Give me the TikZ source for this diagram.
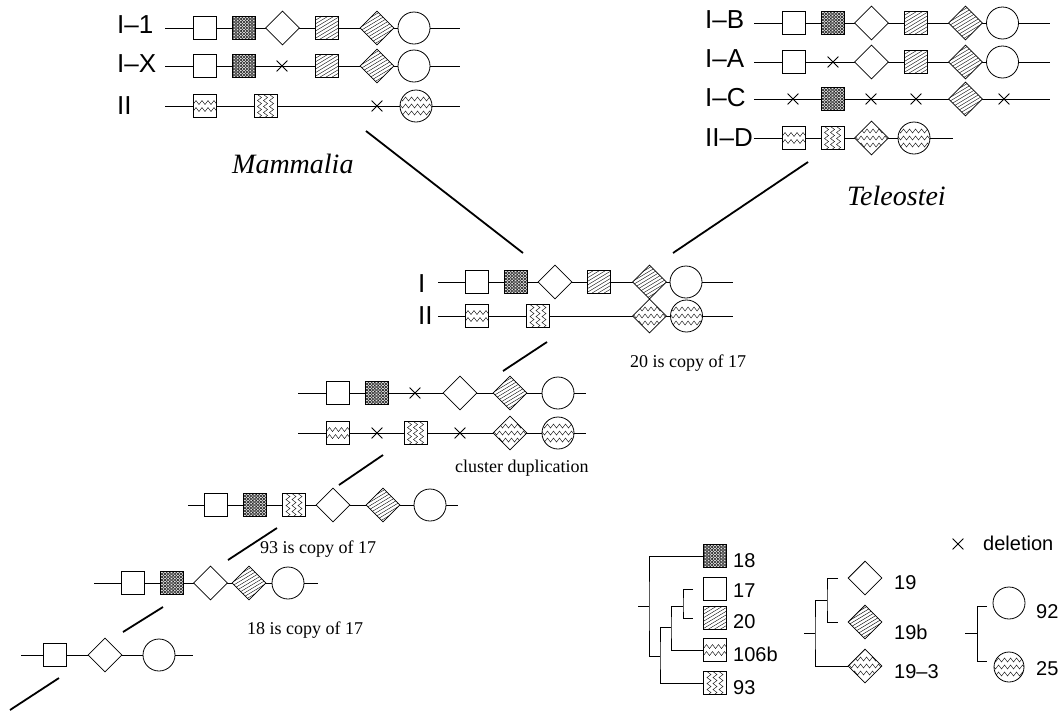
\documentclass[tikz,border=0pt]{standalone}
\usepackage{fontspec}
\setmainfont{Liberation Serif}
\setsansfont{Liberation Sans}
\usepackage{tikz}
\usetikzlibrary{positioning,shapes.geometric,shapes.misc,decorations.pathmorphing}

\begin{document}
\begin{tikzpicture}[x=1pt,y=-1pt,
    gene/.style={draw,line width=0.8pt,fill=white,inner sep=0pt},
    meshing/.style={path picture={\begin{scope}[shift={(path picture bounding box.center)}]
        \fill[gray!25] (-17,-17) rectangle (17,17);
        \foreach \j in {-5,...,5}{
          \draw[line width=0.4pt] plot[variable=\t,domain=-14:14,samples=40] ({\j*3.2+1.4*sin(60*\t)},\t);
          \draw[line width=0.4pt] plot[variable=\t,domain=-14:14,samples=40] ({\j*3.2-1.4*sin(60*\t)},\t);}
        \end{scope}}},
    hatching/.style={path picture={\begin{scope}[shift={(path picture bounding box.center)}]
        \foreach \k in {-48,-42,...,48} \draw[line width=0.4pt] (\k-30,18) -- (\k+30,-18);
        \end{scope}}},
    waveto/.style={line width=0.4pt,decorate,decoration={zigzag,segment length=6pt,amplitude=2pt}},
    waving/.style={path picture={\begin{scope}[shift={(path picture bounding box.center)}]
        \foreach \j in {-3.5,3.5} \draw[waveto] (-16,\j) -- (16,\j);
        \end{scope}}},
    waving3/.style={path picture={\begin{scope}[shift={(path picture bounding box.center)}]
        \foreach \j in {-7,0,7} \draw[waveto] (-18,\j) -- (18,\j);
        \end{scope}}},
    zigging/.style={path picture={\begin{scope}[shift={(path picture bounding box.center)}]
        \foreach \j in {-6,0,6} \draw[waveto] (\j,-16) -- (\j,16);
        \end{scope}}},
    plainsq/.style={gene,rectangle,minimum width=23pt,minimum height=23pt},
    meshsq/.style={plainsq,meshing},
    hatchsq/.style={plainsq,hatching},
    wavesq/.style={plainsq,waving},
    zigsq/.style={plainsq,zigging},
    plaindia/.style={gene,diamond,minimum size=34pt},
    hatchdia/.style={plaindia,hatching},
    wavedia/.style={plaindia,waving3},
    plaincirc/.style={gene,circle,minimum size=32pt},
    wavecirc/.style={plaincirc,waving3},
    lost/.style={cross out,draw,line width=0.8pt,minimum size=10pt,inner sep=0pt},
    chrom/.style={line width=0.8pt},
    branch/.style={line width=1.8pt},
    tree/.style={line width=0.8pt},
    lab/.style={font=\sffamily\fontsize{26}{28}\selectfont,anchor=base west,inner sep=0pt},
    leg/.style={font=\sffamily\fontsize{20}{22}\selectfont,anchor=base west,inner sep=0pt},
    note/.style={font=\fontsize{18}{20}\selectfont,anchor=base west,inner sep=0pt},
    clade/.style={font=\itshape\fontsize{28}{30}\selectfont,anchor=base west,inner sep=0pt}]

\fill[white] (0,0) rectangle (1063,713);
\useasboundingbox (0,0) rectangle (1063,713);

% Mammalia
\node[lab] (lm1) at (117,33) {I–1};
\node[lab] (lm2) at (117,72) {I–X};
\node[lab] (lm3) at (117,114) {II};
\coordinate (m1s) at (165,28); \coordinate (m1e) at (460,28);
\coordinate (m2s) at (165,66); \coordinate (m2e) at (460,66);
\coordinate (m3s) at (165,106); \coordinate (m3e) at (460,106);
\draw[chrom] (m1s) -- (m1e);
\draw[chrom] (m2s) -- (m2e);
\draw[chrom] (m3s) -- (m3e);
\foreach \x/\g/\n in {204.5/plainsq/a,244/meshsq/b,282.5/plaindia/c,326.5/hatchsq/d,377/hatchdia/e,414/plaincirc/f}
  \node[\g] (m1\n) at (\x,28) {};
\foreach \x/\g/\n in {204.5/plainsq/a,244/meshsq/b,282/lost/c,326.5/hatchsq/d,377/hatchdia/e,414/plaincirc/f}
  \node[\g] (m2\n) at (\x,66) {};
\foreach \x/\g/\n in {204.5/wavesq/a,265.5/zigsq/b,377/lost/c,416/wavecirc/d}
  \node[\g] (m3\n) at (\x,106) {};
\node[clade] (mam) at (232,173) {Mammalia};

% Teleostei
\node[lab] (lt1) at (705,28) {I–B};
\node[lab] (lt2) at (705,67) {I–A};
\node[lab] (lt3) at (705,106) {I–C};
\node[lab] (lt4) at (705,146) {II–D};
\coordinate (t1s) at (754,23); \coordinate (t1e) at (1050,23);
\coordinate (t2s) at (754,62); \coordinate (t2e) at (1050,62);
\coordinate (t3s) at (754,99); \coordinate (t3e) at (1050,99);
\coordinate (t4s) at (754,138); \coordinate (t4e) at (953,138);
\draw[chrom] (t1s) -- (t1e);
\draw[chrom] (t2s) -- (t2e);
\draw[chrom] (t3s) -- (t3e);
\draw[chrom] (t4s) -- (t4e);
\foreach \x/\g/\n in {793.5/plainsq/a,832.5/meshsq/b,871.5/plaindia/c,915.5/hatchsq/d,965.5/hatchdia/e,1002.5/plaincirc/f}
  \node[\g] (t1\n) at (\x,23) {};
\foreach \x/\g/\n in {793.5/plainsq/a,833/lost/b,871.5/plaindia/c,915.5/hatchsq/d,965.5/hatchdia/e,1002.5/plaincirc/f}
  \node[\g] (t2\n) at (\x,62) {};
\foreach \x/\g/\n in {793/lost/a,832.5/meshsq/b,871/lost/c,916/lost/d,965.5/hatchdia/e,1004/lost/f}
  \node[\g] (t3\n) at (\x,99) {};
\foreach \x/\g/\n in {793.5/wavesq/a,832.5/zigsq/b,871.5/wavedia/c,914/wavecirc/d}
  \node[\g] (t4\n) at (\x,138) {};
\node[clade] (tel) at (847,205) {Teleostei};

% common ancestor
\node[lab] (lc1) at (418,292) {I};
\node[lab] (lc2) at (418,324) {II};
\coordinate (c1s) at (438,282); \coordinate (c1e) at (733,282);
\coordinate (c2s) at (438,316); \coordinate (c2e) at (733,316);
\draw[chrom] (c1s) -- (c1e);
\draw[chrom] (c2s) -- (c2e);
\foreach \x/\g/\n in {476.5/plainsq/a,515.5/meshsq/b,555/plaindia/c,598.5/hatchsq/d,649.5/hatchdia/e,686/plaincirc/f}
  \node[\g] (c1\n) at (\x,282) {};
\foreach \x/\g/\n in {476.5/wavesq/a,538/zigsq/b,649.5/wavedia/c,686.5/wavecirc/d}
  \node[\g] (c2\n) at (\x,316) {};
\node[note] (n20) at (630,367) {20 is copy of 17};

% before cluster duplication
\coordinate (d1s) at (298,393); \coordinate (d1e) at (586,393);
\coordinate (d2s) at (298,433); \coordinate (d2e) at (586,433);
\draw[chrom] (d1s) -- (d1e);
\draw[chrom] (d2s) -- (d2e);
\foreach \x/\g/\n in {338/plainsq/a,376.5/meshsq/b,415/lost/c,460/plaindia/d,510/hatchdia/e,558/plaincirc/f}
  \node[\g] (d1\n) at (\x,393) {};
\foreach \x/\g/\n in {338/wavesq/a,377/lost/b,415.5/zigsq/c,460/lost/d,510/wavedia/e,558/wavecirc/f}
  \node[\g] (d2\n) at (\x,433) {};
\node[note] (ndup) at (455,472) {cluster duplication};

\coordinate (e1s) at (188,505); \coordinate (e1e) at (458,505);
\draw[chrom] (e1s) -- (e1e);
\foreach \x/\g/\n in {216/plainsq/a,254.5/meshsq/b,294/zigsq/c,333/plaindia/d,383/hatchdia/e,430/plaincirc/f}
  \node[\g] (e1\n) at (\x,505) {};
\node[note] (n93) at (260,553) {93 is copy of 17};

\coordinate (f1s) at (94,583); \coordinate (f1e) at (318,583);
\draw[chrom] (f1s) -- (f1e);
\foreach \x/\g/\n in {133/plainsq/a,171.5/meshsq/b,210.5/plaindia/c,249/hatchdia/d,288/plaincirc/e}
  \node[\g] (f1\n) at (\x,583) {};
\node[note] (n18) at (247,634) {18 is copy of 17};

\coordinate (g1s) at (21,655); \coordinate (g1e) at (193,655);
\draw[chrom] (g1s) -- (g1e);
\foreach \x/\g/\n in {55/plainsq/a,105/plaindia/b,159/plaincirc/c}
  \node[\g] (g1\n) at (\x,655) {};

% lineage
\coordinate (bm1) at (366,131); \coordinate (bm2) at (523,253);
\coordinate (bt1) at (808,162); \coordinate (bt2) at (673,253);
\coordinate (bc1) at (547,342); \coordinate (bc2) at (503,371);
\coordinate (bd1) at (383,455); \coordinate (bd2) at (339,485);
\coordinate (be1) at (277,528); \coordinate (be2) at (228,560);
\coordinate (bf1) at (163,607); \coordinate (bf2) at (123,632);
\coordinate (bg1) at (59,678); \coordinate (bg2) at (10,710);
\draw[branch] (bm1) -- (bm2);
\draw[branch] (bt1) -- (bt2);
\draw[branch] (bc1) -- (bc2);
\draw[branch] (bd1) -- (bd2);
\draw[branch] (be1) -- (be2);
\draw[branch] (bf1) -- (bf2);
\draw[branch] (bg1) -- (bg2);

% legend
\node[lost] (kx) at (958,544) {};
\node[leg] (kxl) at (983,550) {deletion};

\node[meshsq] (k18) at (715,556) {};
\node[plainsq] (k17) at (715,589) {};
\node[hatchsq] (k20) at (715,618) {};
\node[wavesq] (k106) at (715,650) {};
\node[zigsq] (k93) at (715,683) {};
\node[leg] (l18) at (733,567) {18};
\node[leg] (l17) at (733,597) {17};
\node[leg] (l20) at (733,628) {20};
\node[leg] (l106) at (733,661) {106b};
\node[leg] (l93) at (733,694) {93};
\coordinate (ta) at (638,606); \coordinate (tb) at (649,606);
\coordinate (tc) at (660,656); \coordinate (td) at (671,627);
\coordinate (te) at (683,606); \coordinate (tf) at (693,589);
\coordinate (tg) at (693,618);
\draw[tree] (ta) -- (tb);
\draw[tree] (k18) -| (tb) |- (tc);
\draw[tree] (k93) -| (tc) |- (td);
\draw[tree] (k106) -| (td) |- (te);
\draw[tree] (tf) -| (te) |- (tg);

\node[plaindia] (k19) at (865,578) {};
\node[hatchdia] (k19b) at (865,622) {};
\node[wavedia] (k193) at (865,666) {};
\node[leg] (l19) at (894,589) {19};
\node[leg] (l19b) at (894,639) {19b};
\node[leg] (l193) at (894,678) {19–3};
\coordinate (ua) at (804,633); \coordinate (ub) at (815,633);
\coordinate (uc) at (827,600); \coordinate (ud) at (838,578);
\coordinate (ue) at (838,622);
\draw[tree] (ua) -- (ub);
\draw[tree] (k193) -| (ub) |- (uc);
\draw[tree] (ud) -| (uc) |- (ue);

\node[plaincirc] (k92) at (1009,603) {};
\node[wavecirc,minimum size=30pt] (k25) at (1009,667) {};
\node[leg] (l92) at (1036,618) {92};
\node[leg] (l25) at (1036,675) {25};
\coordinate (va) at (965,633); \coordinate (vb) at (977,633);
\coordinate (vc) at (987,606); \coordinate (vd) at (987,661);
\draw[tree] (va) -- (vb);
\draw[tree] (vc) -| (vb) |- (vd);
\end{tikzpicture}
\end{document}
